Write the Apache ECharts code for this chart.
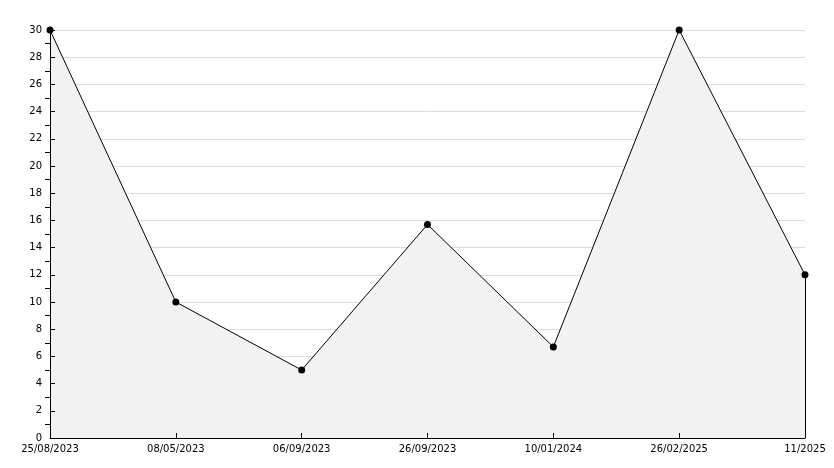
<!DOCTYPE html>
<html><head><meta charset="utf-8">
<script src="https://cdn.jsdelivr.net/npm/echarts@6/dist/echarts.min.js"></script>
<style>html,body{margin:0;padding:0;background:#fff}#c{width:834px;height:468px}</style>
</head><body><div id="c"></div>
<script>
const categories = ["25/08/2023", "08/05/2023", "06/09/2023", "26/09/2023", "10/01/2024", "26/02/2025", "11/2025"];
const values = [30, 10, 5, 15.7, 6.7, 30, 12];
const yMin = 0, yMax = 30, yStep = 2;

const chart = echarts.init(document.getElementById('c'), null, {renderer: 'canvas'});
const font = {fontFamily: 'DejaVu Sans', fontSize: 10, color: '#000'};
const lastIdx = categories.length - 1;
chart.setOption({
  animation: false,
  backgroundColor: '#fff',
  grid: {left: 50, right: 29, top: 30, bottom: 30},
  xAxis: {
    type: 'category', data: categories, boundaryGap: false, z: 5,
    axisLine: {lineStyle: {color: '#000', width: 1}},
    axisTick: {inside: true, length: 5, lineStyle: {color: '#000'}},
    axisLabel: Object.assign({margin: 6, interval: 0}, font),
    splitLine: {show: false}
  },
  yAxis: [{
    type: 'value', min: yMin, max: yMax, interval: yStep, z: 5,
    axisLine: {show: true, lineStyle: {color: '#000', width: 1}},
    axisTick: {show: true, inside: true, length: 5, lineStyle: {color: '#000'}},
    minorTick: {show: true, splitNumber: 2, length: -5, lineStyle: {color: '#000'}},
    axisLabel: Object.assign({margin: 8}, font),
    splitLine: {show: false}
  }, {
    type: 'value', min: yMin, max: yMax, interval: yStep, z: 0, position: 'left',
    axisLine: {show: false}, axisTick: {show: false}, axisLabel: {show: false},
    splitLine: {show: true, lineStyle: {color: '#dcdcdc', width: 1}}
  }],
  series: [{
    type: 'line', data: values, z: 2,
    symbol: 'circle', symbolSize: 7,
    itemStyle: {color: '#000'},
    lineStyle: {color: '#000', width: 1},
    areaStyle: {color: '#f2f2f2', opacity: 1}
  }, {
    type: 'line',
    data: categories.map((c, i) => i === lastIdx ? values[lastIdx] : null),
    symbol: 'none', silent: true,
    lineStyle: {width: 0},
    markLine: {
      silent: true, symbol: 'none', label: {show: false},
      lineStyle: {color: '#000', width: 1, type: 'solid'},
      data: [[{coord: [lastIdx, values[lastIdx]]}, {coord: [lastIdx, yMin]}]]
    }
  }]
});
</script></body></html>
